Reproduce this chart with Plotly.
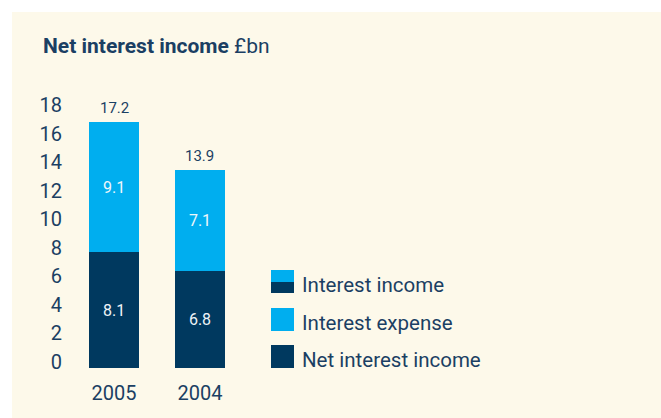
import plotly.graph_objects as go

# Net interest income, £bn
years = ["2005", "2004"]
net_interest_income = [8.1, 6.8]
interest_expense = [9.1, 7.1]
interest_income = [round(n + e, 1) for n, e in zip(net_interest_income, interest_expense)]
y_ticks = list(range(0, 19, 2))

NAVY = "#00395f"
BLUE = "#00aeef"
TEXT = "#1b3f63"
CREAM = "#fdf9ea"
FONT = "Roboto"

W, H = 661, 418
L, R, T, B = 70, 401, 111, 50
PW, PH = W - L - R, H - T - B


def px(x):
    return (x - L) / PW


def py(y):
    return (H - B - y) / PH


fig = go.Figure()
fig.add_trace(go.Bar(
    x=years, y=net_interest_income, name="Net interest income",
    marker=dict(color=NAVY, line=dict(width=0)), width=0.58,
    text=[f"{v:.1f}" for v in net_interest_income], textposition="inside",
    insidetextanchor="middle", textangle=0,
    textfont=dict(family=FONT, size=16, color="#eef3f8"),
))
fig.add_trace(go.Bar(
    x=years, y=interest_expense, name="Interest expense",
    marker=dict(color=BLUE, line=dict(width=0)), width=0.58,
    text=[f"{v:.1f}" for v in interest_expense], textposition="inside",
    insidetextanchor="middle", textangle=0,
    textfont=dict(family=FONT, size=16, color="#eef6fb"),
))

# totals above the stacks (category index positions)
for i, tot in enumerate(interest_income):
    fig.add_annotation(x=i, y=tot, text=f"{tot:.1f}", showarrow=False,
                       yanchor="bottom", yshift=3,
                       font=dict(family=FONT, size=15, color=TEXT))

shapes = [
    # white border strips around the cream panel
    dict(type="rect", xref="paper", yref="paper", layer="below",
         x0=px(0), x1=px(661), y0=py(12), y1=py(0),
         fillcolor="white", line=dict(width=0)),
    dict(type="rect", xref="paper", yref="paper", layer="below",
         x0=px(0), x1=px(12), y0=py(418), y1=py(0),
         fillcolor="white", line=dict(width=0)),
]

# legend drawn as swatches + labels
legend_rows = [("Interest income", 270), ("Interest expense", 308), ("Net interest income", 345)]
sx0, sx1, sz = 271, 294, 23
for label, top in legend_rows:
    if label == "Interest income":
        shapes.append(dict(type="rect", xref="paper", yref="paper",
                           x0=px(sx0), x1=px(sx1), y0=py(top + 12), y1=py(top),
                           fillcolor=BLUE, line=dict(width=0)))
        shapes.append(dict(type="rect", xref="paper", yref="paper",
                           x0=px(sx0), x1=px(sx1), y0=py(top + sz), y1=py(top + 12),
                           fillcolor=NAVY, line=dict(width=0)))
    else:
        color = BLUE if label == "Interest expense" else NAVY
        shapes.append(dict(type="rect", xref="paper", yref="paper",
                           x0=px(sx0), x1=px(sx1), y0=py(top + sz), y1=py(top),
                           fillcolor=color, line=dict(width=0)))
    fig.add_annotation(xref="paper", yref="paper", x=px(300), y=py(top + sz / 2 + 3),
                       text=label, showarrow=False, xanchor="left", yanchor="middle",
                       font=dict(family=FONT, size=20.5, color=TEXT))

# title
fig.add_annotation(xref="paper", yref="paper", x=px(41), y=py(46),
                   text="<b>Net interest income</b> £bn", showarrow=False,
                   xanchor="left", yanchor="middle",
                   font=dict(family=FONT, size=21, color=TEXT))

fig.update_layout(
    width=W, height=H,
    margin=dict(l=L, r=R, t=T, b=B, pad=0),
    barmode="stack",
    showlegend=False,
    paper_bgcolor=CREAM,
    plot_bgcolor="rgba(0,0,0,0)",
    shapes=shapes,
    xaxis=dict(type="category", range=[-0.512, 1.698], showgrid=False, zeroline=False,
               showline=False, ticks="", tickfont=dict(family=FONT, size=20, color=TEXT),
               ticklabelstandoff=11, fixedrange=True),
    yaxis=dict(range=[0, 18], tickvals=y_ticks, showgrid=False, zeroline=False,
               showline=False, ticks="", ticklabelshift=-6, ticklabelstandoff=7,
               tickfont=dict(family=FONT, size=20, color=TEXT), fixedrange=True),
)

fig.write_html("out.html", config=dict(displayModeBar=False))
